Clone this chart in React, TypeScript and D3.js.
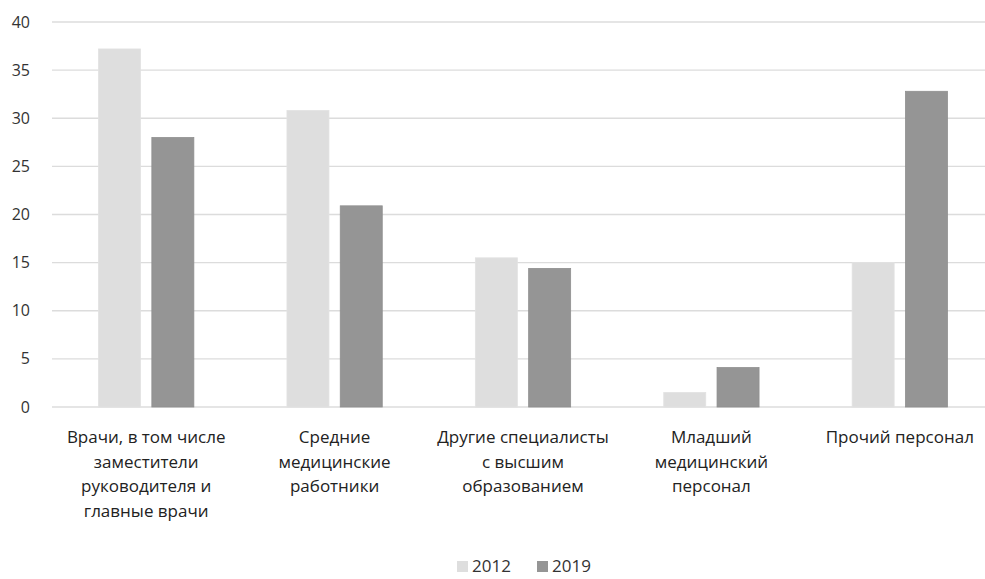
import React, { useEffect, useRef } from "react";
import * as d3 from "d3";

const categories: string[][] = [
  ["Врачи, в том числе", "заместители", "руководителя и", "главные врачи"],
  ["Средние", "медицинские", "работники"],
  ["Другие специалисты", "с высшим", "образованием"],
  ["Младший", "медицинский", "персонал"],
  ["Прочий персонал"],
];
const series = ["2012", "2019"];
const values2012 = [37.2, 30.8, 15.5, 1.5, 15.0];
const values2019 = [28.0, 20.9, 14.4, 4.1, 32.8];
const yTicks = [0, 5, 10, 15, 20, 25, 30, 35, 40];
const colors = ["#dedede", "#959595"];

const W = 985;
const H = 579;
const FONT = "'Open Sans', sans-serif";

export default function App() {
  const ref = useRef<SVGSVGElement>(null);
  useEffect(() => {
    const svg = d3.select(ref.current);
    svg.selectAll("*").remove();
    const left = 52;
    const right = 994;
    const top = 22;
    const bottom = 407;

    const x0 = d3.scaleBand<number>().domain(d3.range(categories.length)).range([left, right]).paddingInner(0).paddingOuter(0);
    const y = d3.scaleLinear().domain([0, 40]).range([bottom, top]);
    const barW = 42;
    const gap = 11.3;

    svg.append("g")
      .selectAll("line")
      .data(yTicks)
      .join("line")
      .attr("x1", left)
      .attr("x2", W)
      .attr("y1", (d) => y(d))
      .attr("y2", (d) => y(d))
      .attr("stroke", "#dcdcdc")
      .attr("stroke-width", 1.3);

    svg.append("g")
      .selectAll("text")
      .data(yTicks)
      .join("text")
      .attr("x", 30)
      .attr("y", (d) => y(d))
      .attr("dy", "0.35em")
      .attr("text-anchor", "end")
      .attr("font-family", FONT)
      .attr("font-size", 16)
      .attr("fill", "#333")
      .text((d) => String(d));

    const data = [values2012, values2019];
    data.forEach((vals, si) => {
      svg.append("g")
        .selectAll("rect")
        .data(vals)
        .join("rect")
        .attr("x", (_d, i) => {
          const c = (x0(i) as number) + x0.bandwidth() / 2;
          return si === 0 ? c - gap / 2 - barW : c + gap / 2;
        })
        .attr("y", (d) => y(d))
        .attr("width", barW)
        .attr("height", (d) => bottom - y(d))
        .attr("fill", colors[si])
        .attr("stroke", si === 0 ? "#e2e2e2" : "#8f8f8f")
        .attr("stroke-width", 0.8);
    });

    const lab = svg.append("g");
    categories.forEach((lines, i) => {
      const c = (x0(i) as number) + x0.bandwidth() / 2;
      const t = lab.append("text")
        .attr("text-anchor", "middle")
        .attr("font-family", FONT)
        .attr("font-size", 17)
        .attr("fill", "#222");
      lines.forEach((ln, k) => {
        t.append("tspan").attr("x", c).attr("y", 443 + k * 24.5).text(ln);
      });
    });

    const lg = svg.append("g");
    const items = [
      { x: 457, label: series[0], color: colors[0] },
      { x: 537, label: series[1], color: colors[1] },
    ];
    items.forEach((it) => {
      lg.append("rect").attr("x", it.x).attr("y", 561).attr("width", 11).attr("height", 11).attr("fill", it.color);
      lg.append("text")
        .attr("x", it.x + 15)
        .attr("y", 572)
        .attr("font-family", FONT)
        .attr("font-size", 17)
        .attr("fill", "#333")
        .text(it.label);
    });
  }, []);

  return (
    <svg
      ref={ref}
      width={W}
      height={H}
      style={{ position: "absolute", left: 0, top: 0, display: "block", background: "#fff" }}
    />
  );
}
